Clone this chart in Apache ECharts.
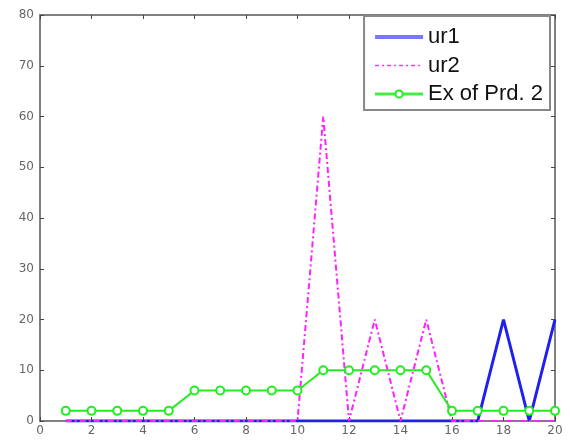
<!DOCTYPE html>
<html><head><meta charset="utf-8">
<script src="https://cdn.jsdelivr.net/npm/echarts@6/dist/echarts.min.js"></script>
<style>html,body{margin:0;padding:0;background:#fff}#c{width:570px;height:442px}</style>
</head><body><div id="c"></div>
<script>
const xs = [1,2,3,4,5,6,7,8,9,10,11,12,13,14,15,16,17,18,19,20];
const ur1 = [0,0,0,0,0,0,0,0,0,0,0,0,0,0,0,0,0,20,0,20];
const ur2 = [0,0,0,0,0,0,0,0,0,0,60,0,20,0,20,0,0,0,0,0];
const exPrd2 = [2,2,2,2,2,6,6,6,6,6,10,10,10,10,10,2,2,2,2,2];
const xTicks = [0,2,4,6,8,10,12,14,16,18,20];
const yTicks = [0,10,20,30,40,50,60,70,80];

const pair = (v) => xs.map((x,i)=>[x,v[i]]);
const axisGray = '#808080';
const lab = {color:'#666', fontSize:12, fontFamily:'DejaVu Sans'};
const tick = {show:true,inside:true,length:4,lineStyle:{color:'#444',width:1}};
const line = {show:true,onZero:false,lineStyle:{color:axisGray,width:2}};
const chart = echarts.init(document.getElementById('c'));
chart.setOption({
  animation:false,
  backgroundColor:'#fff',
  grid:{left:40,right:15,top:15,bottom:21,show:false},
  xAxis:[
    {type:'value',min:xTicks[0],max:xTicks[xTicks.length-1],interval:2,position:'bottom',
     axisLine:line,axisTick:tick,
     axisLabel:Object.assign({margin:4},lab),splitLine:{show:false}},
    {type:'value',min:xTicks[0],max:xTicks[xTicks.length-1],interval:2,position:'top',
     axisLine:line,axisTick:tick,axisLabel:{show:false},splitLine:{show:false}}
  ],
  yAxis:[
    {type:'value',min:yTicks[0],max:yTicks[yTicks.length-1],interval:10,position:'left',
     axisLine:line,axisTick:tick,
     axisLabel:Object.assign({margin:6},lab),splitLine:{show:false}},
    {type:'value',min:yTicks[0],max:yTicks[yTicks.length-1],interval:10,position:'right',
     axisLine:line,axisTick:tick,axisLabel:{show:false},splitLine:{show:false}}
  ],
  legend:{
    orient:'vertical',right:20,top:16,
    backgroundColor:'#fff',borderColor:'#888',borderWidth:2,borderRadius:0,
    padding:[10,7,5,9],itemGap:6.5,itemWidth:48,itemHeight:9,
    textStyle:{fontSize:22,color:'#111',fontFamily:'Liberation Sans'},
    data:[
      {name:'ur1',itemStyle:{opacity:0},lineStyle:{color:'#7777ff',width:4}},
      {name:'ur2',itemStyle:{opacity:0},lineStyle:{color:'#ff33ff',width:1.5,type:[4,3,2,3]}},
      {name:'Ex of Prd. 2',lineStyle:{color:'#44ee44',width:3}}
    ]
  },
  series:[
    {name:'ur1',type:'line',data:pair(ur1),showSymbol:false,symbol:'none',
     lineStyle:{color:'#2020ee',width:3},itemStyle:{color:'#2020ee'}},
    {name:'ur2',type:'line',data:pair(ur2),showSymbol:false,symbol:'none',
     lineStyle:{color:'#ff22ff',width:2,type:[6,3,2,3]},itemStyle:{color:'#ff22ff'}},
    {name:'Ex of Prd. 2',type:'line',data:pair(exPrd2),symbol:'circle',symbolSize:8,
     lineStyle:{color:'#22ee22',width:2},
     itemStyle:{color:'#fff',borderColor:'#22ee22',borderWidth:2}}
  ]
});
</script></body></html>
